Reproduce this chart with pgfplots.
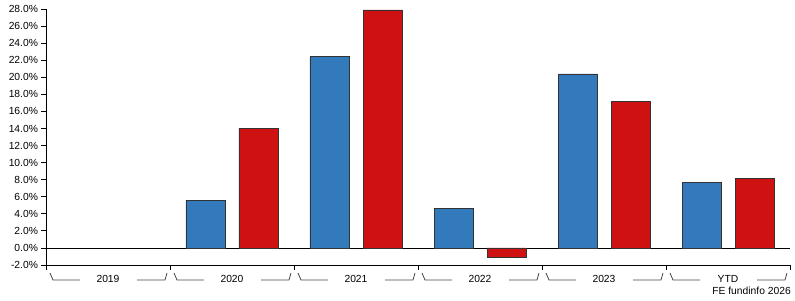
\documentclass[border=0pt]{standalone}
\usepackage{pgfplots}
\pgfplotsset{compat=1.18}
\usepackage{fontspec}
\setmainfont{Liberation Sans}
\definecolor{fblue}{RGB}{51,122,189}
\definecolor{fred}{RGB}{206,17,17}
\definecolor{brk}{RGB}{70,70,70}
\begin{document}
\begin{tikzpicture}
\useasboundingbox (-46pt,-35pt) rectangle (749pt,265pt);
\begin{axis}[
  at={(0,0)}, anchor=south west,
  scale only axis, width=744pt, height=256pt,
  xmin=-0.5, xmax=5.5, ymin=-2, ymax=28,
  axis lines*=left,
  axis line style={black, line width=0.8pt},
  xtick={-0.5,0.5,1.5,2.5,3.5,4.5,5.5},
  xticklabels={},
  ytick={-2,0,...,28},
  tick align=outside,
  major tick length=4.5pt,
  tick style={black, line width=0.8pt},
  /pgf/number format/assume math mode=true,
  yticklabel={\pgfmathprintnumber[fixed,fixed zerofill,precision=1]{\tick}\%},
  yticklabel style={font=\fontsize{10.3}{12}\selectfont, xshift=0pt},
  clip=false,
]
\draw[black, line width=0.8pt] (axis cs:-0.5,0) -- (axis cs:5.5,0);
\addplot[ybar, bar width=39pt, bar shift=-26.5pt, fill=fblue, draw=black!80, line width=0.7pt]
  coordinates {(1,5.6) (2,22.4) (3,4.6) (4,20.4) (5,7.7)};
\addplot[ybar, bar width=39pt, bar shift=26.5pt, fill=fred, draw=black!80, line width=0.7pt]
  coordinates {(1,14.0) (2,27.9) (3,-1.1) (4,17.2) (5,8.1)};
\pgfplotsinvokeforeach{0,1,2,3,4,5}{
  \draw[brk, line width=0.8pt, shift={(axis cs:#1-0.5,-2)}] (4pt,-8pt) -- (7pt,-15pt) -- (34pt,-15pt);
  \draw[brk, line width=0.8pt, shift={(axis cs:#1-0.5,-2)}] (91pt,-15pt) -- (119pt,-15pt) -- (121pt,-8pt);
}
\node[font=\fontsize{10.3}{12}\selectfont] at ([yshift=-14pt]axis cs:0,-2) {2019};
\node[font=\fontsize{10.3}{12}\selectfont] at ([yshift=-14pt]axis cs:1,-2) {2020};
\node[font=\fontsize{10.3}{12}\selectfont] at ([yshift=-14pt]axis cs:2,-2) {2021};
\node[font=\fontsize{10.3}{12}\selectfont] at ([yshift=-14pt]axis cs:3,-2) {2022};
\node[font=\fontsize{10.3}{12}\selectfont] at ([yshift=-14pt]axis cs:4,-2) {2023};
\node[font=\fontsize{10.3}{12}\selectfont] at ([yshift=-14pt]axis cs:5,-2) {YTD};
\node[font=\fontsize{10.3}{12}\selectfont, anchor=east, inner sep=0pt] at ([xshift=1pt,yshift=-26pt]axis cs:5.5,-2) {FE fundinfo 2026};
\end{axis}
\end{tikzpicture}
\end{document}
